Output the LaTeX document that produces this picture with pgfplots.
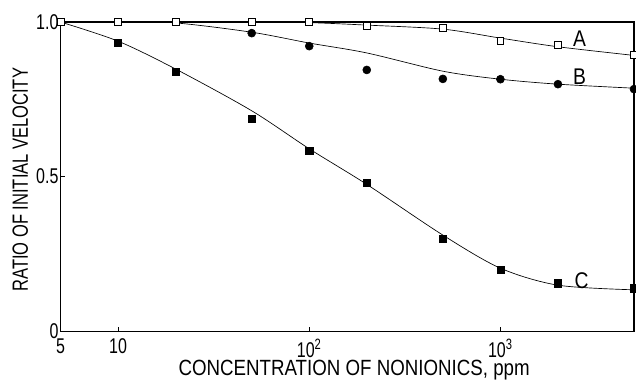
\documentclass[border=0pt]{standalone}
\usepackage{pgfplots}
\pgfplotsset{compat=1.18}
\usepackage{fontspec}
\setmainfont{Liberation Sans}[FakeStretch=0.85]
\newfontfamily\ylabfont{Liberation Sans}[FakeStretch=0.75]
\newfontfamily\tickfont{Liberation Sans}[FakeStretch=0.75]
\begin{document}
\begin{tikzpicture}
\path[use as bounding box] (-45.375pt,-37.5pt) rectangle (431.25pt,248.25pt);
\begin{axis}[
  at={(0,0)}, anchor=south west,
  scale only axis,
  width=429.75pt, height=231.75pt,
  xmode=log, xmin=5, xmax=5000,
  ymin=0, ymax=1,
  xtick={5,10,100,1000},
  xticklabels={5,10,10\textsuperscript{2},10\textsuperscript{3}},
  minor xtick={},
  ytick={0,0.5,1},
  yticklabels={0,0.5,1.0},
  tick align=inside,
  major tick length=3pt,
  tick style={black, line width=0.6pt},
  xtick pos=bottom, ytick pos=left,
  axis line style={line width=0.9pt},
  /pgf/number format/assume math mode=true,
  tick label style={font=\tickfont\fontsize{16}{18}\selectfont},
  xticklabel style={inner sep=1pt, text depth=0pt, yshift=-4.5pt},
  yticklabel style={xshift=2pt},
  xlabel={CONCENTRATION OF NONIONICS, ppm},
  ylabel={RATIO OF INITIAL VELOCITY},
  xlabel style={font=\fontsize{16.5}{18}\selectfont, inner sep=0.5pt, at={(axis description cs:0.512,0)}, anchor=base, yshift=-33.5pt},
  ylabel style={font=\ylabfont\fontsize{16.5}{18}\selectfont, at={(axis description cs:-0.07,0.49)}, anchor=center},
  clip=false,
]
% fitted curves
\addplot[black, line width=0.5pt, smooth] coordinates {
 (5,1.0) (10,1.0) (20,1.0) (50,1.0) (100,0.998) (200,0.99) (500,0.977) (1000,0.948) (2000,0.92) (5000,0.892)};
\addplot[black, line width=0.5pt, smooth] coordinates {
 (5,1.0) (10,1.0) (20,0.997) (50,0.967) (100,0.932) (200,0.9) (500,0.841) (1000,0.815) (2000,0.799) (5000,0.786)};
\addplot[black, line width=0.5pt, smooth] coordinates {
 (5,1.0) (10,0.938) (20,0.848) (50,0.713) (100,0.59) (200,0.475) (500,0.311) (1000,0.204) (2000,0.149) (5000,0.134)};
% data points
\addplot[only marks, mark=square*, mark options={fill=white, draw=black, line width=0.6pt}, mark size=2.6pt] coordinates {
 (5,1.0) (10,1.0) (20,1.0) (50,1.0) (100,1.0) (200,0.987) (500,0.981) (1000,0.939) (2000,0.926) (5000,0.893)};
\addplot[only marks, mark=*, mark options={fill=black, draw=black}, mark size=3pt] coordinates {
 (50,0.964) (100,0.922) (200,0.845) (500,0.816) (1000,0.815) (2000,0.799) (5000,0.783)};
\addplot[only marks, mark=square*, mark options={fill=black, draw=black}, mark size=2.7pt] coordinates {
 (10,0.932) (20,0.838) (50,0.686) (100,0.583) (200,0.479) (500,0.298) (1000,0.198) (2000,0.155) (5000,0.139)};
\node[font=\fontsize{17}{18}\selectfont] at (axis cs:2594,0.945) {A};
\node[font=\fontsize{17}{18}\selectfont] at (axis cs:2594,0.822) {B};
\node[font=\fontsize{17}{18}\selectfont] at (axis cs:2655,0.165) {C};
\end{axis}
\end{tikzpicture}
\end{document}
